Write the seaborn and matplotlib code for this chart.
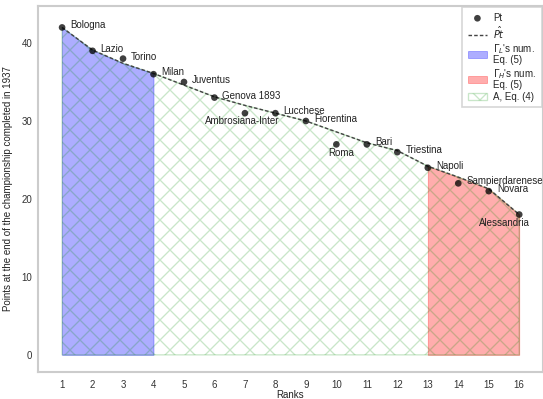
import matplotlib
matplotlib.use("Agg")
import matplotlib.pyplot as plt
import seaborn as sns
import pandas as pd

teams = ["Bologna", "Lazio", "Torino", "Milan", "Juventus", "Genova 1893",
         "Ambrosiana-Inter", "Lucchese", "Fiorentina", "Roma", "Bari",
         "Triestina", "Napoli", "Sampierdarenese", "Novara", "Alessandria"]
ranks = list(range(1, 17))
points = [42, 39, 38, 36, 35, 33, 31, 31, 30, 27, 27, 26, 24, 22, 21, 18]
fitted = [42.0, 39.1, 37.4, 36.1, 34.6, 33.1, 32.0, 31.0, 30.0, 28.6, 27.2,
          26.2, 24.2, 22.8, 21.3, 18.0]
low_end = 4     # last rank of Gamma_L region
high_start = 13  # first rank of Gamma_H region

df = pd.DataFrame({"rank": ranks, "pt": points, "fit": fitted, "team": teams})

sns.set_theme(style="whitegrid")
plt.rcParams["font.family"] = ["Liberation Sans", "DejaVu Sans"]
plt.rcParams["hatch.linewidth"] = 0.8
plt.rcParams["axes.edgecolor"] = "#cccccc"

FS = 5.85
DPI = 120
fig = plt.figure(figsize=(543 / DPI, 399 / DPI), dpi=DPI)
ax = fig.add_axes([38 / 543, 27 / 399, 505 / 543, 366 / 399])
ax.grid(False)

low = df[df["rank"] <= low_end]
high = df[df["rank"] >= high_start]
ax.fill_between(low["rank"], low["fit"], 0, color="blue", alpha=0.32, lw=0.5,
                label="$\\Gamma_L$'s num.\nEq. (5)")
ax.fill_between(high["rank"], high["fit"], 0, color="red", alpha=0.32, lw=0.5,
                label="$\\Gamma_H$'s num.\nEq. (5)")
ax.fill_between(df["rank"], df["fit"], 0, facecolor="none", hatch="xx",
                edgecolor=(0.0, 0.55, 0.0, 0.21), lw=0.8, label="A, Eq. (4)")

sns.lineplot(data=df, x="rank", y="fit", ax=ax, color="#444444", lw=0.85,
             dashes=False, label="$\\hat{Pt}$")
ax.lines[-1].set_dashes((2.5, 1.5))
sns.scatterplot(data=df, x="rank", y="pt", ax=ax, color="black", alpha=0.75,
                s=16, edgecolor="none", label="Pt", zorder=5)

offsets = {
    "Ambrosiana-Inter": (-3, -8, "center"),
    "Roma": (5, -9, "center"),
    "Alessandria": (-15, -8, "center"),
}
for r, p, t in zip(ranks, points, teams):
    dx, dy, ha = offsets.get(t, (8, 2, "left"))
    ax.annotate(t, (r, p), xytext=(dx, dy), textcoords="offset pixels",
                ha=ha, va="center", fontsize=FS, color="#222222")

ax.set_xlim(0.21, 16.78)
ax.set_ylim(-2.2, 44.75)
ax.set_xticks(ranks)
ax.set_yticks([0, 10, 20, 30, 40])
ax.tick_params(axis="x", labelsize=FS, pad=4.5, length=0, colors="#333333")
ax.tick_params(axis="y", labelsize=FS, pad=3.5, length=0, colors="#333333")
ax.set_xlabel("Ranks", fontsize=FS, labelpad=0.3, color="#222222")
ax.set_ylabel("Points at the end of the championship completed in 1937",
              fontsize=FS, labelpad=5, color="#222222")

h, l = ax.get_legend_handles_labels()
order = ["Pt", "$\\hat{Pt}$", "$\\Gamma_L$'s num.\nEq. (5)",
         "$\\Gamma_H$'s num.\nEq. (5)", "A, Eq. (4)"]
hd = dict(zip(l, h))
leg = ax.legend([hd[k] for k in order], order, loc="upper right", fontsize=FS,
                frameon=True, borderaxespad=0.15, handlelength=2.0,
                handletextpad=0.6, labelspacing=0.15, borderpad=0.55,
                edgecolor="#cccccc", fancybox=False)
for t in leg.get_texts():
    t.set_linespacing(0.95)

fig.savefig("out.png", dpi=DPI)
